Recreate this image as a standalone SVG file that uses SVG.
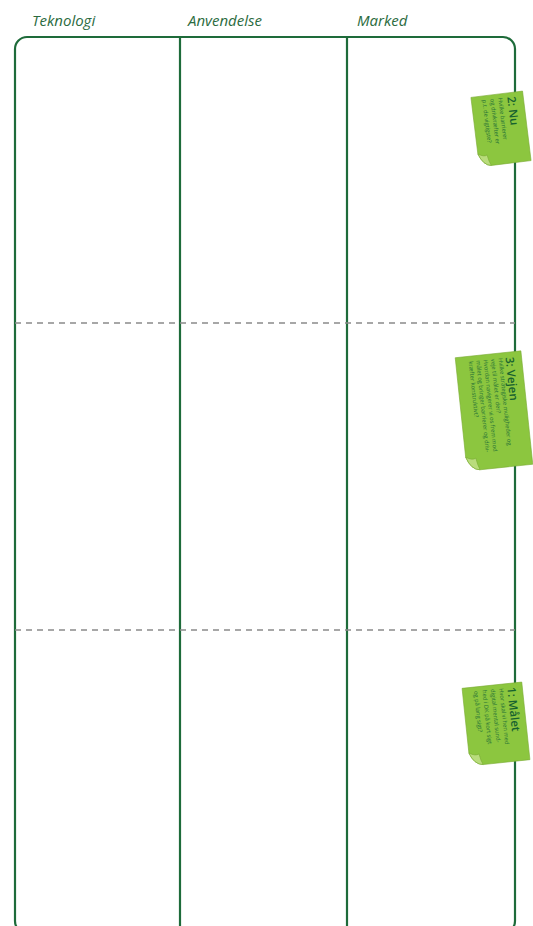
<svg xmlns="http://www.w3.org/2000/svg" width="533" height="926" viewBox="0 0 533 926">
<style>
.hdr{font-family:"Open Sans","Liberation Sans",sans-serif;font-style:italic;font-size:15px;fill:#2b6b40}
.frame{fill:none;stroke:#1e6b3a;stroke-width:2.2}
.div{stroke:#1e6b3a;stroke-width:2.2}
.dash{stroke:#8a8a8a;stroke-width:1.6;stroke-dasharray:6 5}
.note{fill:#8cc63f;stroke:#7aab34;stroke-width:0.6}
.fold{fill:#b9dc7c;stroke:#7aab34;stroke-width:0.6}
.ttl{font-family:"Open Sans","Liberation Sans",sans-serif;font-size:11.5px;font-weight:600;fill:#17622f}
.txt{font-family:"Open Sans","Liberation Sans",sans-serif;font-size:5.8px;fill:#1f6f35}
</style>
<g id="headers">
<text class="hdr" x="32" y="26">Teknologi</text>
<text class="hdr" x="188" y="26">Anvendelse</text>
<text class="hdr" x="357" y="26">Marked</text>
</g>
<g id="grid">
<rect class="frame" x="15" y="37" width="500" height="896" rx="12"/>
<line class="div" x1="180" y1="37" x2="180" y2="926"/>
<line class="div" x1="347" y1="37" x2="347" y2="926"/>
<line class="dash" x1="15" y1="323" x2="515" y2="323"/>
<line class="dash" x1="15" y1="630" x2="515" y2="630"/>
</g>
<g id="note-nu" transform="translate(501,129) rotate(-7)">
<path class="note" d="M-26,-35 L26,-35 L26,35 L-14,35 Q-22,34 -26,22 Z"/>
<path class="fold" d="M-26,22 Q-20,26 -17,24 Q-16,31 -14,35 Q-22,34 -26,22 Z"/>
<g transform="rotate(90)">
<text class="ttl" x="-31" y="-10">2: Nu</text>
<text class="txt" x="-31" y="-1">Hvilke barrierer</text>
<text class="txt" x="-31" y="7">og drivkræfter er</text>
<text class="txt" x="-31" y="15">p.t. de vigtigste?</text>
</g>
</g>
<g id="note-vejen" transform="translate(494,411) rotate(-6)">
<path class="note" d="M-33,-57 L33,-57 L33,57 L-20,57 Q-29,56 -33,43 Z"/>
<path class="fold" d="M-33,43 Q-27,47 -23,45 Q-22,52 -20,57 Q-29,56 -33,43 Z"/>
<g transform="rotate(90)">
<text class="ttl" x="-52" y="-17">3: Vejen</text>
<text class="txt" x="-52" y="-10">Hvilke strategiske muligheder og</text>
<text class="txt" x="-52" y="-2.5">veje til målet er der?</text>
<text class="txt" x="-52" y="5">Hvordan navigerer vi os frem mod</text>
<text class="txt" x="-52" y="12.5">målet og bringer barrierer og driv-</text>
<text class="txt" x="-52" y="20">kræfter konstruktivt?</text>
</g>
</g>
<g id="note-maalet" transform="translate(496,724) rotate(-6)">
<path class="note" d="M-30,-39 L30,-39 L30,39 L-17,39 Q-26,38 -30,26 Z"/>
<path class="fold" d="M-30,26 Q-24,30 -20,28 Q-19,35 -17,39 Q-26,38 -30,26 Z"/>
<g transform="rotate(90)">
<text class="ttl" x="-35" y="-15">1: Målet</text>
<text class="txt" x="-35" y="-7">Hvor skal vi hen med</text>
<text class="txt" x="-35" y="1.5">digital mental sund-</text>
<text class="txt" x="-35" y="10">hed i DK på kort sigt</text>
<text class="txt" x="-35" y="18.5">og på lang sigt?</text>
</g>
</g>
</svg>
